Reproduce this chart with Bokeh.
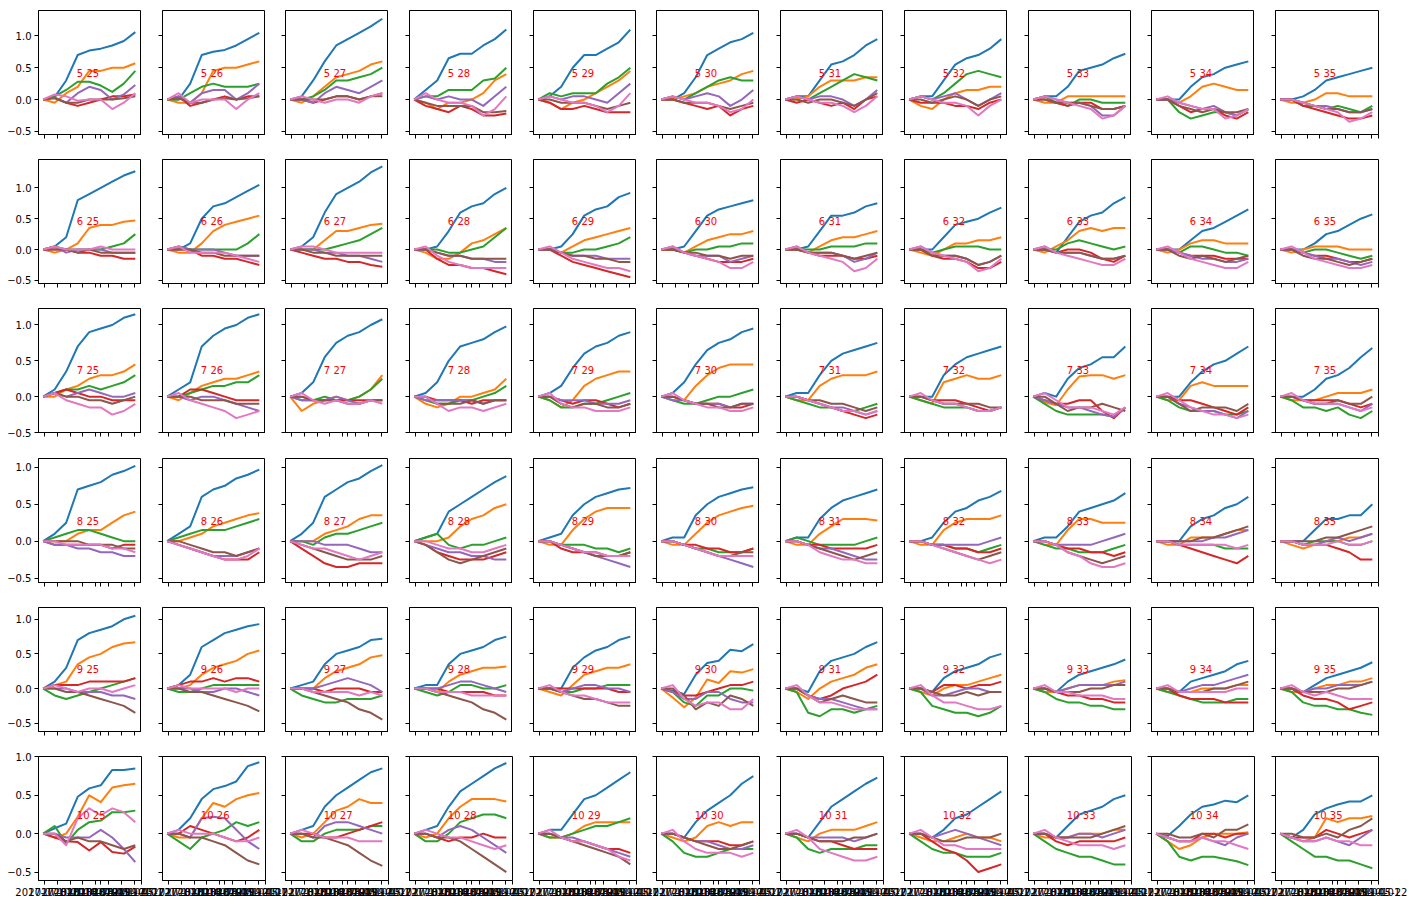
import datetime as dt
from bokeh.plotting import figure
from bokeh.layouts import column, row
from bokeh.models import Range1d, FixedTicker, DatetimeTickFormatter, CustomJSTickFormatter
from bokeh.core.properties import value
from bokeh.embed import file_html
from bokeh.resources import INLINE

rows = [5, 6, 7, 8, 9, 10]
cols = [25, 26, 27, 28, 29, 30, 31, 32, 33, 34, 35]
dates = ["2017-06-22", "2017-09-12", "2017-12-03", "2018-02-23", "2018-05-16",
         "2018-08-06", "2018-10-27", "2019-01-17", "2019-04-09"]
x_tick_dates = ["2017-07-01", "2017-10-01", "2018-01-01", "2018-04-01", "2018-07-01",
                "2018-08-05", "2018-10-01", "2019-01-01", "2019-04-01", "2019-05-22"]
y_ticks = [-0.5, 0.0, 0.5, 1.0]
y_tick_labels = ["\u22120.5", "0.0", "0.5", "1.0"]
label_x = "2018-02-17"
label_y = [0.41, 0.46, 0.36, 0.27, 0.28, 0.24]

blue = [
 [0,.04,.3,.7,.77,.8,.85,.92,1.06],[0,0,.25,.7,.75,.78,.85,.95,1.05],[0,.05,.3,.6,.85,.95,1.05,1.15,1.27],[0,.15,.3,.65,.72,.72,.85,.95,1.1],[0,.05,.2,.5,.7,.7,.8,.9,1.1],[0,0,.1,.35,.7,.8,.9,.95,1.05],[0,.05,.05,.3,.55,.6,.7,.85,.95],[0,.05,.05,.3,.55,.65,.7,.8,.95],[0,.05,.05,.2,.45,.5,.55,.65,.72],[0,0,0,.2,.35,.4,.5,.55,.6],[0,0,.05,.15,.3,.35,.4,.45,.5],
 [0,.05,.2,.8,.9,1.0,1.1,1.2,1.27],[0,0,.1,.5,.7,.75,.85,.95,1.05],[0,.05,.2,.6,.9,1.0,1.1,1.25,1.35],[0,0,.05,.3,.6,.7,.75,.9,1.0],[0,0,.05,.25,.55,.65,.7,.85,.92],[0,0,.05,.3,.55,.65,.7,.75,.8],[0,0,.05,.3,.55,.55,.6,.7,.75],[0,0,0,.2,.4,.45,.5,.6,.68],[0,0,-.05,.2,.45,.55,.6,.75,.85],[0,0,0,.15,.3,.35,.45,.55,.65],[0,0,0,.1,.25,.3,.4,.5,.57],
 [0,.1,.35,.7,.9,.95,1.0,1.1,1.15],[0,.1,.2,.7,.85,.95,1.0,1.1,1.15],[0,.05,.2,.55,.75,.85,.9,1.0,1.08],[0,.05,.2,.5,.7,.75,.8,.9,.98],[0,.05,.15,.4,.6,.7,.75,.85,.9],[0,.05,.2,.45,.65,.75,.8,.9,.95],[0,.05,.05,.3,.5,.6,.65,.7,.75],[0,0,0,.3,.45,.55,.6,.65,.7],[0,.05,0,.25,.4,.45,.55,.55,.7],[0,0,0,.2,.35,.45,.5,.6,.7],[0,0,0,.1,.25,.3,.4,.55,.68],
 [0,.1,.25,.7,.75,.8,.9,.95,1.02],[0,.1,.2,.6,.7,.75,.85,.9,.97],[0,.1,.25,.6,.7,.8,.85,.95,1.03],[0,.05,.1,.4,.5,.6,.7,.8,.88],[0,.05,.1,.35,.5,.6,.65,.7,.72],[0,.05,.05,.35,.5,.6,.65,.7,.73],[0,.05,.05,.3,.45,.55,.6,.65,.7],[0,0,.05,.25,.4,.45,.55,.6,.68],[0,.05,.05,.2,.4,.45,.5,.55,.65],[0,0,0,.2,.3,.35,.45,.5,.6],[0,0,0,.15,.3,.3,.35,.35,.5],
 [0,.1,.3,.7,.8,.85,.9,1.0,1.05],[0,.05,.2,.6,.7,.8,.85,.9,.93],[0,.05,.1,.35,.5,.55,.6,.7,.72],[0,.05,.05,.35,.5,.55,.6,.7,.75],[0,0,0,.3,.45,.55,.6,.7,.75],[0,-.03,-.08,.2,.37,.4,.56,.54,.64],[0,0,-.05,.25,.4,.45,.5,.6,.67],[0,0,-.05,.15,.25,.3,.35,.45,.5],[0,0,-.05,.1,.2,.25,.3,.35,.42],[0,0,-.05,.1,.15,.2,.25,.35,.4],[0,0,-.05,.05,.15,.2,.25,.3,.38],
 [0,.07,.13,.48,.59,.63,.83,.83,.85],[0,.05,.2,.45,.58,.62,.68,.88,.93],[0,.05,.1,.35,.5,.6,.7,.8,.85],[0,.05,.1,.35,.55,.65,.75,.85,.92],[0,.05,.05,.25,.45,.5,.6,.7,.8],[0,0,-.05,.15,.3,.4,.5,.65,.75],[0,0,-.05,.15,.35,.45,.55,.65,.73],[0,0,-.05,.05,.2,.25,.35,.45,.55],[0,0,-.05,.1,.25,.3,.35,.45,.5],[0,-.03,.1,.25,.35,.38,.43,.41,.5],[0,-.05,.05,.25,.33,.38,.42,.42,.5],
]
orange = [
 [0,-.05,.1,.2,.45,.45,.5,.5,.57],[0,-.05,-.05,.1,.45,.5,.5,.55,.6],[0,-.05,.05,.2,.35,.4,.45,.55,.6],[0,-.05,-.15,-.05,-.05,0,.1,.3,.4],[0,-.05,-.15,-.05,0,.1,.2,.3,.45],[0,0,.05,.1,.2,.25,.3,.4,.45],[0,0,.05,.2,.3,.3,.3,.35,.35],[0,-.1,-.15,0,.1,.15,.15,.2,.2],[0,-.05,-.05,.05,.05,.05,.05,.05,.05],[0,0,-.05,.05,.2,.25,.2,.15,.15],[0,-.05,-.05,0,.1,.1,.05,.05,.05],
 [0,-.05,0,.1,.35,.4,.4,.45,.47],[0,-.05,-.05,.1,.3,.4,.45,.5,.55],[0,0,0,.15,.3,.3,.35,.4,.42],[0,-.05,-.15,-.15,-.05,.1,.15,.25,.35],[0,0,-.05,.05,.15,.2,.25,.3,.35],[0,0,-.05,.05,.15,.2,.25,.25,.3],[0,0,-.05,.05,.15,.2,.2,.25,.3],[0,-.05,-.1,0,.1,.1,.15,.15,.2],[0,-.05,.05,.15,.3,.35,.3,.35,.35],[0,-.05,0,.1,.15,.15,.1,.1,.1],[0,-.05,0,.05,.05,.05,0,0,0],
 [0,0,.1,.15,.25,.3,.3,.35,.45],[0,-.05,.05,.15,.2,.25,.25,.3,.35],[0,-.2,-.1,-.05,0,-.05,0,.1,.3],[0,-.1,-.15,-.1,0,0,.05,.1,.25],[0,-.05,-.15,-.05,.15,.25,.3,.35,.35],[0,0,-.05,.15,.3,.4,.45,.45,.45],[0,-.05,-.05,.15,.25,.3,.3,.3,.35],[0,-.05,-.1,.2,.25,.3,.25,.25,.3],[0,-.08,-.12,.1,.28,.3,.3,.25,.3],[0,-.05,-.05,.15,.2,.15,.15,.15,.15],[0,-.05,-.05,-.05,0,.05,.05,.05,.1],
 [0,0,0,.1,.15,.15,.25,.35,.4],[0,0,.05,.1,.2,.25,.3,.35,.38],[0,0,0,.1,.15,.2,.3,.35,.35],[0,0,0,.05,.2,.3,.35,.45,.5],[0,-.05,-.05,.15,.3,.4,.45,.45,.45],[0,-.05,-.05,.1,.25,.35,.4,.45,.48],[0,-.05,-.05,.1,.2,.3,.3,.3,.28],[0,-.05,-.05,.15,.25,.3,.3,.3,.35],[0,-.05,-.05,.15,.3,.3,.25,.25,.25],[0,-.05,-.05,.05,.05,.05,.1,.15,.15],[0,-.05,-.1,-.05,0,0,.05,.05,.1],
 [0,.05,.1,.35,.45,.5,.6,.65,.67],[0,0,.05,.2,.3,.35,.4,.5,.55],[0,0,0,.15,.25,.3,.35,.45,.48],[0,0,-.05,.1,.2,.25,.3,.3,.32],[0,-.05,-.1,.05,.2,.25,.3,.3,.35],[0,-.13,-.27,-.13,.13,.08,.25,.23,.28],[0,-.05,-.15,0,.1,.15,.2,.3,.35],[0,-.05,-.1,0,.05,.05,.1,.15,.2],[0,-.05,-.05,0,.05,.05,.05,.1,.12],[0,-.05,-.05,-.05,0,0,0,.05,.05],[0,-.05,-.05,0,.05,.05,.1,.1,.15],
 [0,-.05,0,.22,.5,.41,.6,.63,.65],[0,-.05,-.05,.2,.4,.35,.45,.5,.53],[0,-.05,0,.15,.3,.35,.45,.4,.4],[0,-.05,0,.2,.35,.45,.45,.45,.42],[0,-.05,-.05,0,.1,.15,.15,.15,.15],[0,-.05,-.1,-.05,.1,.15,.1,.15,.15],[0,-.05,-.1,0,.05,.05,.05,.1,.15],[0,-.05,-.1,-.1,-.05,0,-.05,-.05,-.1],[0,-.05,-.05,-.05,0,0,0,.05,.05],[0,-.1,-.2,-.15,-.05,0,0,0,.02],[0,-.05,-.1,-.05,.2,.15,.2,.2,.23],
]
green = [
 [0,.05,.15,.28,.28,.22,.12,.25,.45],[0,0,.1,.2,.25,.2,.2,.2,.25],[0,0,.05,.15,.3,.3,.35,.4,.5],[0,.05,.05,.15,.15,.15,.3,.33,.5],[0,.1,.05,.1,.1,.1,.25,.35,.5],[0,.05,0,.1,.2,.3,.35,.3,.3],[0,.05,0,.1,.2,.3,.4,.35,.3],[0,.05,0,.1,.25,.4,.45,.4,.35],[0,.05,-.05,-.1,0,0,-.05,-.05,-.05],[0,0,-.2,-.3,-.25,-.2,-.2,-.25,-.15],[0,0,-.1,-.1,-.15,-.1,-.15,-.2,-.1],
 [0,.05,0,0,0,0,.05,.1,.25],[0,.05,0,0,0,0,0,.1,.25],[0,0,0,0,.05,.1,.15,.25,.35],[0,0,0,-.05,-.05,0,.05,.2,.35],[0,0,-.05,-.05,0,0,.05,.1,.2],[0,0,-.05,0,0,.05,.05,.1,.1],[0,0,0,0,.05,.05,.05,.1,.1],[0,0,-.05,0,.05,.05,.05,0,0],[0,0,0,.1,.15,.1,.05,0,.05],[0,0,-.05,.05,.05,0,-.05,-.05,-.1],[0,0,-.05,0,0,-.05,-.1,-.15,-.1],
 [0,.05,.1,.1,.15,.1,.15,.2,.3],[0,0,.05,.1,.15,.15,.2,.2,.3],[0,-.05,-.05,0,-.05,-.05,0,.1,.25],[0,-.05,-.1,-.1,-.05,-.05,0,.05,.15],[0,-.05,-.15,-.15,-.1,-.1,-.05,0,.05],[0,-.05,-.1,-.1,-.05,0,0,.05,.1],[0,-.05,-.1,-.15,-.15,-.2,-.2,-.15,-.1],[0,-.05,-.1,-.15,-.15,-.15,-.2,-.2,-.15],[0,-.1,-.2,-.25,-.25,-.25,-.25,-.28,-.15],[0,-.05,-.15,-.2,-.2,-.2,-.25,-.25,-.2],[0,-.05,-.15,-.15,-.2,-.15,-.25,-.3,-.2],
 [0,.05,.1,.15,.15,.1,.05,0,0],[0,.05,.1,.15,.15,.15,.2,.25,.3],[0,0,-.05,.05,.1,.1,.15,.2,.25],[0,.05,.1,-.05,-.1,-.05,-.05,0,.05],[0,0,-.05,-.05,-.05,-.1,-.1,-.15,-.1],[0,0,-.05,-.1,-.1,-.15,-.15,-.15,-.1],[0,.05,0,-.05,-.05,-.05,-.05,0,.05],[0,0,-.05,-.05,-.1,-.1,-.15,-.1,-.05],[0,-.05,-.1,-.1,-.15,-.15,-.15,-.1,-.05],[0,0,-.05,-.05,-.05,-.05,-.1,-.1,-.1],[0,0,-.05,0,0,0,-.05,-.05,0],
 [0,-.1,-.15,-.1,-.05,0,.05,.1,.15],[0,-.05,-.05,0,.05,.05,.05,.05,.05],[0,-.1,-.15,-.2,-.2,-.15,-.15,-.15,-.1],[0,-.05,-.1,-.05,.05,.05,0,0,.05],[0,0,-.05,-.05,0,0,.05,.05,.05],[0,-.05,-.2,-.25,-.1,-.1,0,0,-.03],[0,-.05,-.35,-.4,-.3,-.3,-.35,-.3,-.25],[0,-.05,-.25,-.3,-.35,-.35,-.4,-.35,-.25],[0,-.05,-.15,-.2,-.2,-.25,-.25,-.3,-.3],[0,-.05,-.1,-.15,-.2,-.2,-.2,-.15,-.15],[0,-.05,-.2,-.25,-.25,-.3,-.3,-.35,-.38],
 [0,.1,-.13,.05,.15,.17,.28,.28,.3],[0,-.1,-.2,-.05,0,.05,.15,.1,.15],[0,-.1,-.1,0,.05,.05,.05,.1,.1],[0,-.1,-.1,0,.15,.2,.25,.25,.2],[0,-.05,-.05,0,.05,.1,.1,.15,.2],[0,-.1,-.25,-.3,-.3,-.25,-.2,-.2,-.2],[0,-.05,-.2,-.25,-.2,-.2,-.2,-.15,-.15],[0,-.1,-.2,-.25,-.25,-.3,-.3,-.3,-.25],[0,-.1,-.2,-.25,-.3,-.3,-.35,-.4,-.4],[0,-.1,-.3,-.35,-.3,-.3,-.33,-.36,-.41],[0,-.1,-.2,-.3,-.3,-.35,-.35,-.4,-.45],
]
red = [
 [0,.03,-.05,-.1,-.05,0,.05,.05,.08],[0,.05,-.1,-.05,0,.05,0,.05,.05],[0,0,-.05,0,.05,.05,0,.05,.1],[0,-.1,-.15,-.2,-.1,-.15,-.25,-.25,-.22],[0,-.05,-.15,-.15,-.1,-.15,-.2,-.2,-.2],[0,0,-.05,-.1,-.15,-.1,-.25,-.15,-.1],[0,-.05,0,-.05,-.1,-.05,-.15,0,.05],[0,-.05,-.05,-.05,-.1,-.1,-.15,-.05,0],[0,0,-.05,-.1,-.05,-.05,-.15,-.15,-.1],[0,0,-.1,-.2,-.15,-.15,-.25,-.3,-.2],[0,0,-.1,-.15,-.2,-.25,-.3,-.3,-.25],
 [0,0,0,-.05,-.05,-.1,-.1,-.15,-.15],[0,0,0,-.1,-.1,-.15,-.15,-.2,-.25],[0,-.05,-.1,-.15,-.15,-.2,-.2,-.25,-.28],[0,0,-.15,-.25,-.25,-.3,-.3,-.35,-.4],[0,0,-.1,-.2,-.25,-.3,-.35,-.4,-.45],[0,0,-.05,-.1,-.15,-.2,-.2,-.2,-.15],[0,0,-.05,-.1,-.1,-.1,-.15,-.15,-.1],[0,0,-.1,-.15,-.15,-.2,-.3,-.3,-.2],[0,0,-.05,0,0,-.05,-.15,-.2,-.1],[0,0,-.05,-.1,-.1,-.1,-.15,-.15,-.15],[0,0,-.05,-.1,-.1,-.15,-.2,-.2,-.15],
 [0,.05,.1,.05,0,0,-.05,-.05,-.05],[0,0,.1,.1,.05,0,-.05,-.05,-.05],[0,0,-.05,-.05,-.05,-.05,-.05,-.05,-.05],[0,0,-.05,-.05,-.05,-.1,-.05,-.05,-.05],[0,0,-.05,-.1,-.05,-.05,-.1,-.15,-.1],[0,0,-.05,-.1,-.1,-.1,-.15,-.15,-.1],[0,0,-.05,-.1,-.15,-.2,-.25,-.3,-.25],[0,0,-.05,-.05,-.05,-.1,-.15,-.2,-.15],[0,-.05,-.1,-.1,-.05,-.05,-.2,-.3,-.15],[0,0,-.05,-.05,-.1,-.15,-.2,-.25,-.15],[0,0,-.05,-.05,-.05,-.05,-.1,-.15,-.1],
 [0,-.05,-.05,-.05,-.05,-.05,-.1,-.05,-.05],[0,-.05,-.1,-.15,-.2,-.25,-.25,-.25,-.15],[0,-.1,-.2,-.3,-.35,-.35,-.3,-.3,-.3],[0,-.05,-.15,-.2,-.25,-.25,-.25,-.2,-.15],[0,0,-.1,-.15,-.15,-.15,-.2,-.2,-.15],[0,0,-.05,-.05,-.1,-.1,-.15,-.15,-.1],[0,0,-.05,-.05,-.1,-.1,-.1,-.1,-.05],[0,0,-.05,-.05,-.1,-.1,-.15,-.15,-.1],[0,0,-.05,-.1,-.1,-.15,-.15,-.2,-.15],[0,0,-.05,-.1,-.15,-.2,-.25,-.3,-.2],[0,0,-.05,-.05,-.05,-.1,-.15,-.25,-.25],
 [0,.05,.05,.05,.1,.1,.1,.1,.15],[0,.05,.1,.1,.15,.1,.15,.15,.1],[0,0,0,-.05,0,0,0,-.05,-.05],[0,0,0,-.05,-.05,-.05,-.05,-.1,-.1],[0,0,0,0,0,0,0,-.05,-.05],[0,-.05,-.1,-.1,-.05,0,.05,.05,.1],[0,0,-.1,-.15,-.1,0,.05,.1,.2],[0,0,-.05,.05,.05,0,.05,.05,.1],[0,0,-.05,-.1,-.1,-.15,-.15,-.2,-.2],[0,0,-.1,-.15,-.15,-.15,-.2,-.2,-.2],[0,0,-.1,-.15,-.15,-.2,-.3,-.25,-.2],
 [0,-.05,-.1,-.11,-.22,-.11,-.24,-.26,-.17],[0,0,.1,.05,0,-.05,-.1,-.05,.05],[0,0,0,-.05,-.05,0,.05,.1,.15],[0,0,-.05,-.1,-.05,-.05,0,-.05,-.05],[0,0,-.05,-.1,-.1,-.15,-.2,-.2,-.25],[0,0,-.05,-.1,-.1,-.1,-.15,-.15,-.1],[0,0,-.05,-.1,-.1,-.15,-.2,-.2,-.2],[0,0,-.1,-.2,-.25,-.35,-.5,-.45,-.4],[0,0,-.1,-.15,-.1,-.1,-.1,-.1,-.05],[0,-.05,-.1,-.1,0,0,-.05,0,0],[0,-.05,-.05,-.05,.05,0,-.05,0,.05],
]
purple = [
 [0,.03,-.05,.1,.2,.15,0,.08,.23],[0,.05,-.05,.1,.15,.15,0,.1,.25],[0,0,-.05,.1,.2,.15,.1,.2,.3],[0,.05,0,.05,0,0,-.1,.05,.2],[0,.05,0,.05,.05,0,-.05,.1,.25],[0,.05,0,.05,.1,.05,-.1,0,.15],[0,.05,0,.05,.05,0,-.1,0,.15],[0,.05,0,.05,.1,0,-.1,0,.1],[0,.05,0,-.05,-.05,-.1,-.25,-.25,-.1],[0,0,-.05,-.1,-.15,-.1,-.2,-.25,-.15],[0,0,-.05,-.1,-.1,-.15,-.2,-.2,-.15],
 [0,.05,-.05,0,0,0,-.05,-.05,-.05],[0,.05,0,0,0,-.05,-.1,-.1,-.1],[0,0,0,-.05,-.05,-.1,-.1,-.15,-.2],[0,0,-.05,-.1,-.1,-.15,-.15,-.2,-.2],[0,0,-.05,-.1,-.1,-.1,-.15,-.15,-.15],[0,.05,-.05,-.1,-.1,-.1,-.2,-.15,-.1],[0,.05,-.05,-.05,-.05,-.1,-.2,-.15,-.05],[0,.05,-.05,-.1,-.1,-.15,-.25,-.2,-.1],[0,.05,-.05,-.05,-.05,-.1,-.15,-.15,-.1],[0,0,-.05,-.1,-.15,-.15,-.2,-.2,-.15],[0,0,-.05,-.1,-.15,-.15,-.2,-.25,-.2],
 [0,.05,0,.05,.1,.05,0,0,.05],[0,0,-.05,0,0,-.05,-.1,-.15,-.2],[0,-.05,-.05,-.05,0,-.05,-.1,-.05,-.05],[0,-.05,-.05,-.05,-.05,-.05,-.1,-.05,-.05],[0,0,-.05,-.05,-.05,-.1,-.1,-.1,-.05],[0,-.05,-.05,-.1,-.1,-.1,-.15,-.1,-.1],[0,0,-.05,-.1,-.15,-.15,-.2,-.25,-.2],[0,0,-.05,-.1,-.1,-.15,-.2,-.2,-.15],[0,-.05,-.1,-.15,-.15,-.2,-.25,-.28,-.15],[0,0,-.1,-.15,-.2,-.2,-.25,-.3,-.2],[0,0,-.05,-.1,-.1,-.1,-.15,-.2,-.1],
 [0,-.05,-.05,-.1,-.1,-.15,-.15,-.2,-.2],[0,-.05,-.1,-.15,-.2,-.2,-.2,-.15,-.1],[0,0,0,-.05,-.05,-.05,-.1,-.15,-.15],[0,-.05,-.1,-.15,-.15,-.2,-.2,-.25,-.25],[0,0,-.05,-.1,-.15,-.2,-.25,-.3,-.35],[0,0,-.05,-.1,-.15,-.2,-.25,-.3,-.35],[0,0,-.05,-.1,-.1,-.15,-.2,-.25,-.25],[0,0,-.05,-.05,-.05,-.05,-.05,0,.05],[0,0,-.05,-.05,-.05,-.05,0,.05,.1],[0,0,0,0,0,.05,.05,.1,.15],[0,0,-.05,-.05,0,.05,0,.05,.1],
 [0,0,0,-.05,-.05,-.05,-.1,-.1,-.15],[0,0,0,-.05,-.05,0,0,-.05,-.1],[0,0,0,.05,.1,.15,.1,.05,-.05],[0,0,0,.05,.1,.1,.05,0,-.05],[0,0,-.05,0,.05,.05,0,0,-.05],[0,-.05,-.15,-.15,-.05,-.05,-.15,-.2,-.2],[0,0,-.1,-.15,-.15,-.2,-.25,-.3,-.3],[0,0,-.1,-.1,-.05,0,0,-.05,-.05],[0,0,-.05,0,.05,.05,.05,.05,.1],[0,0,-.05,0,.05,.05,.1,.15,.2],[0,0,-.05,0,0,.05,.05,.05,.1],
 [0,0,-.05,-.05,-.05,.05,-.05,-.2,-.37],[0,0,-.05,.2,.22,.2,.05,-.1,-.2],[0,0,-.05,.1,.15,.15,.1,.05,0],[0,0,-.05,.05,.1,.05,-.05,-.15,-.25],[0,0,-.05,-.05,-.1,-.15,-.2,-.25,-.3],[0,0,-.05,-.1,-.1,-.15,-.2,-.2,-.15],[0,0,-.05,-.05,-.05,-.05,-.1,-.05,0],[0,0,-.05,0,.05,0,-.05,-.1,-.15],[0,0,-.05,-.05,0,0,-.05,0,.05],[0,-.05,-.1,-.1,-.05,-.1,-.15,-.05,0],[0,-.05,-.1,-.1,-.05,-.1,-.15,-.05,.05],
]
brown = [
 [0,.02,-.05,-.05,0,0,0,.02,.05],[0,.02,-.05,-.05,0,.02,0,.02,.05],[0,0,0,0,.05,.05,0,.05,.05],[0,-.05,-.1,-.1,-.1,-.1,-.2,-.2,-.18],[0,0,-.05,-.05,-.05,-.1,-.15,-.1,-.05],[0,0,-.05,-.05,-.05,-.1,-.15,-.1,-.05],[0,0,-.05,0,0,-.05,-.1,0,.1],[0,0,-.05,0,.05,0,-.1,0,.05],[0,0,-.05,-.05,-.05,-.1,-.15,-.15,-.1],[0,0,-.1,-.15,-.2,-.15,-.2,-.2,-.15],[0,0,-.05,-.1,-.15,-.15,-.2,-.2,-.15],
 [0,0,0,-.05,0,-.05,-.05,-.05,-.05],[0,0,0,-.05,-.05,-.1,-.1,-.1,-.1],[0,0,-.05,-.05,-.1,-.1,-.1,-.1,-.1],[0,0,-.05,-.1,-.1,-.15,-.15,-.15,-.15],[0,0,-.05,-.1,-.1,-.15,-.15,-.2,-.2],[0,0,-.05,-.05,-.1,-.1,-.15,-.1,-.1],[0,0,-.05,-.05,-.05,-.1,-.15,-.1,-.05],[0,0,-.1,-.1,-.1,-.15,-.25,-.2,-.1],[0,0,-.05,-.05,-.05,-.1,-.15,-.15,-.1],[0,0,-.1,-.15,-.1,-.15,-.2,-.15,-.1],[0,0,-.1,-.15,-.15,-.2,-.25,-.2,-.15],
 [0,.05,0,0,-.05,-.05,-.1,-.05,0],[0,0,0,-.05,-.05,-.05,-.1,-.1,-.1],[0,0,-.05,-.05,-.05,-.1,-.1,-.05,-.05],[0,0,-.1,-.1,-.1,-.05,-.1,-.05,-.05],[0,0,-.1,-.15,-.1,-.1,-.15,-.15,-.1],[0,0,-.05,-.1,-.1,-.15,-.15,-.1,-.1],[0,0,-.05,-.05,-.1,-.1,-.15,-.2,-.15],[0,0,-.05,-.1,-.1,-.1,-.1,-.15,-.15],[0,0,-.1,-.2,-.15,-.15,-.1,-.15,-.2],[0,0,-.1,-.2,-.15,-.15,-.15,-.2,-.1],[0,0,-.05,-.1,-.1,-.05,-.1,-.1,0],
 [0,0,0,0,-.05,-.05,-.05,-.1,-.1],[0,0,-.05,-.1,-.15,-.15,-.2,-.15,-.1],[0,-.05,-.1,-.15,-.2,-.25,-.25,-.25,-.2],[0,-.05,-.15,-.25,-.3,-.25,-.2,-.15,-.1],[0,0,-.05,-.1,-.15,-.2,-.2,-.2,-.15],[0,0,-.05,-.1,-.15,-.2,-.2,-.15,-.15],[0,0,-.05,-.1,-.15,-.2,-.25,-.2,-.15],[0,0,-.05,-.1,-.15,-.2,-.25,-.2,-.15],[0,0,-.05,-.15,-.2,-.25,-.3,-.25,-.2],[0,0,0,0,.05,.05,.1,.15,.2],[0,0,0,0,.05,.05,.1,.15,.2],
 [0,0,-.05,-.05,-.1,-.15,-.2,-.25,-.35],[0,0,-.05,-.05,-.1,-.15,-.2,-.25,-.33],[0,0,-.05,-.1,-.15,-.2,-.3,-.35,-.45],[0,0,-.05,-.1,-.15,-.2,-.3,-.35,-.45],[0,0,-.05,-.1,-.15,-.15,-.2,-.25,-.25],[0,0,-.1,-.3,-.2,-.25,-.1,-.15,-.25],[0,0,-.1,-.2,-.15,-.1,-.15,-.2,-.2],[0,0,-.05,-.1,-.1,-.05,-.1,-.05,-.05],[0,0,-.05,-.05,-.05,0,0,.05,.05],[0,0,-.05,-.05,-.05,0,0,.05,.1],[0,0,-.05,-.05,-.05,0,0,.05,.1],
 [0,0,-.1,-.05,-.1,-.1,-.15,-.2,-.15],[0,0,-.05,-.05,-.1,-.15,-.25,-.35,-.4],[0,0,-.05,-.05,-.1,-.15,-.25,-.35,-.42],[0,0,-.05,-.05,-.1,-.2,-.3,-.4,-.5],[0,0,-.05,-.1,-.15,-.2,-.25,-.3,-.4],[0,0,-.05,-.1,-.15,-.2,-.2,-.15,-.1],[0,0,-.05,-.1,-.1,-.1,-.05,-.05,0],[0,0,-.05,-.1,-.1,-.05,-.05,-.05,0],[0,0,-.05,-.05,-.05,-.05,0,.05,.1],[0,0,-.05,-.05,0,-.05,.05,.05,.12],[0,0,-.05,-.05,0,-.05,.05,.1,.2],
]
pink = [
 [0,.08,.05,-.02,0,0,-.15,-.05,.1],[0,.1,-.05,0,0,0,-.15,0,.1],[0,.05,0,-.05,0,0,-.05,.05,.1],[0,.1,0,-.05,-.05,-.1,-.25,-.15,.05],[0,.05,0,-.05,-.05,-.1,-.2,-.1,.1],[0,.05,0,-.05,-.05,-.1,-.2,-.15,0],[0,.05,0,-.05,-.05,-.1,-.2,-.1,.05],[0,.05,0,-.05,-.05,-.1,-.25,-.1,0],[0,.05,0,-.05,-.1,-.15,-.3,-.25,-.1],[0,.05,-.05,-.1,-.15,-.15,-.3,-.25,-.15],[0,0,-.05,-.1,-.15,-.2,-.35,-.3,-.2],
 [0,.05,0,0,0,.05,0,0,0],[0,.05,-.05,-.05,-.05,-.05,-.1,-.15,-.2],[0,.05,.05,0,-.05,-.05,-.05,-.05,-.05],[0,.05,-.1,-.2,-.25,-.3,-.3,-.3,-.3],[0,.05,-.05,-.15,-.2,-.25,-.3,-.3,-.35],[0,.05,-.05,-.1,-.15,-.2,-.3,-.3,-.2],[0,.05,-.05,-.1,-.15,-.2,-.35,-.3,-.15],[0,.05,-.05,-.1,-.15,-.2,-.35,-.3,-.15],[0,.05,-.05,-.1,-.15,-.2,-.25,-.25,-.15],[0,.05,-.05,-.15,-.2,-.25,-.3,-.3,-.2],[0,.05,-.05,-.15,-.2,-.25,-.3,-.3,-.25],
 [0,.05,-.05,-.1,-.15,-.15,-.25,-.2,-.1],[0,.05,-.05,-.1,-.15,-.2,-.3,-.25,-.2],[0,.05,-.05,-.1,-.05,-.1,-.1,-.05,-.1],[0,0,-.1,-.2,-.15,-.15,-.2,-.15,-.1],[0,.05,-.1,-.15,-.15,-.2,-.2,-.2,-.15],[0,.05,-.05,-.1,-.15,-.15,-.2,-.2,-.15],[0,0,-.05,-.1,-.15,-.2,-.2,-.25,-.2],[0,.05,-.05,-.1,-.1,-.15,-.2,-.2,-.15],[0,.05,-.05,-.15,-.15,-.15,-.2,-.25,-.15],[0,.05,-.05,-.15,-.2,-.25,-.25,-.3,-.25],[0,.05,-.05,-.1,-.1,-.1,-.15,-.2,-.15],
 [0,0,-.05,-.05,-.05,-.05,-.1,-.1,-.15],[0,-.05,-.1,-.15,-.2,-.25,-.25,-.2,-.1],[0,-.05,-.1,-.1,-.15,-.2,-.25,-.2,-.15],[0,0,-.05,-.1,-.1,-.15,-.15,-.1,-.05],[0,0,-.05,-.1,-.15,-.15,-.2,-.2,-.2],[0,0,-.05,-.1,-.15,-.2,-.2,-.2,-.2],[0,0,-.05,-.15,-.2,-.25,-.25,-.3,-.3],[0,0,-.05,-.1,-.15,-.2,-.25,-.3,-.25],[0,0,-.05,-.15,-.2,-.3,-.35,-.35,-.3],[0,0,-.05,-.05,-.05,-.05,-.05,-.1,-.05],[0,0,-.05,-.05,-.05,0,-.05,-.05,0],
 [0,.05,0,-.05,0,0,-.05,0,.05],[0,.05,0,0,0,0,-.05,0,0],[0,0,-.05,-.05,-.05,-.05,-.1,-.05,-.1],[0,0,-.05,-.05,-.05,-.1,-.1,-.1,-.1],[0,.05,-.05,-.1,-.1,-.15,-.2,-.2,-.2],[0,.05,-.15,-.25,-.2,-.2,-.3,-.3,-.15],[0,.05,-.1,-.2,-.2,-.25,-.3,-.3,-.3],[0,.05,-.1,-.2,-.2,-.25,-.3,-.3,-.25],[0,.05,-.05,-.05,-.1,-.1,-.1,-.15,-.15],[0,.05,-.05,-.05,-.05,-.05,-.05,0,0],[0,.05,-.05,-.1,-.05,-.1,-.15,-.15,-.15],
 [0,0,-.15,.2,.33,.24,.33,.28,.15],[0,.05,0,0,0,-.05,-.1,-.1,-.05],[0,.05,0,-.05,-.05,-.05,-.1,-.1,-.1],[0,.05,0,-.05,-.05,-.1,-.15,-.2,-.15],[0,.05,-.05,-.1,-.1,-.15,-.2,-.3,-.35],[0,.05,-.1,-.2,-.25,-.25,-.25,-.3,-.25],[0,.05,-.05,-.2,-.25,-.3,-.35,-.35,-.3],[0,.05,-.05,-.15,-.15,-.2,-.2,-.2,-.2],[0,.05,-.05,-.1,-.15,-.15,-.15,-.2,-.15],[0,-.05,-.1,-.1,-.05,-.1,-.1,-.15,-.2],[0,-.05,-.1,-.1,-.05,-.1,-.1,-.15,-.15],
]

# ---- styling / layout ----
series = [blue, orange, green, red, purple, brown, pink]
colors = ["#1f77b4", "#ff7f0e", "#2ca02c", "#d62728", "#9467bd", "#8c564b", "#e377c2"]
ylims = [(-0.55, 1.40), (-0.55, 1.46), (-0.50, 1.23), (-0.56, 1.12), (-0.62, 1.17), (-0.61, 1.005)]
x_start, x_end = "2017-05-20", "2019-05-23"
FONT = "DejaVu Sans"
FW, FH = 103, 124
EXT = 36   # extra transparent canvas on inner sides of bottom-row panels, for overlapping date labels


def d(s):
    return dt.datetime.strptime(s, "%Y-%m-%d")


def ms(s):
    return (d(s) - dt.datetime(1970, 1, 1)).total_seconds() * 1000.0


xs = [d(s) for s in dates]
col_lefts = [round(38 + 123.7 * c) for c in range(len(cols))]
row_tops = [round(10 + 149.2 * r) for r in range(len(rows))]
BOTTOM_GAP = 20
blank = CustomJSTickFormatter(code="return ''")
last_r, last_c = len(rows) - 1, len(cols) - 1

row_layouts = []
for ri, rv in enumerate(rows):
    line_figs = []
    for ci, cv in enumerate(cols):
        k = ri * len(cols) + ci
        left = 38 if ci == 0 else col_lefts[ci] - col_lefts[ci - 1] - FW
        right = (1412 - col_lefts[-1] - FW) if ci == last_c else 0
        top = 10 if ri == 0 else row_tops[ri] - row_tops[ri - 1] - FH - BOTTOM_GAP
        bottom = 24 if ri == last_r else BOTTOM_GAP
        ext_l = EXT if (ri == last_r and ci > 0) else 0
        ext_r = EXT if (ri == last_r and ci < last_c) else 0
        p = figure(frame_width=FW, frame_height=FH, x_axis_type="datetime",
                   output_backend="svg", toolbar_location=None,
                   x_range=Range1d(d(x_start), d(x_end)),
                   y_range=Range1d(*ylims[ri]),
                   min_border_left=left + ext_l, min_border_right=right + ext_r,
                   min_border_top=top, min_border_bottom=bottom,
                   background_fill_color="white",
                   border_fill_color=None if ri == last_r else "white",
                   outline_line_color="black", outline_line_width=1,
                   margin=(0, -ext_r, 0, -ext_l))
        p.xgrid.visible = False
        p.ygrid.visible = False
        for ax in (p.xaxis[0], p.yaxis[0]):
            ax.axis_line_color = "black"
            ax.axis_line_width = 1
            ax.major_tick_line_color = "black"
            ax.major_tick_out = 4
            ax.major_tick_in = 0
            ax.minor_tick_line_color = None
            ax.major_label_text_font = FONT
            ax.major_label_text_font_size = "10px"
            ax.major_label_text_color = "black"
            ax.major_label_standoff = 3
        p.yaxis.ticker = FixedTicker(ticks=y_ticks)
        p.xaxis.ticker = FixedTicker(ticks=[ms(s) for s in x_tick_dates])
        if ci == 0:
            p.yaxis.major_label_overrides = {t: lab for t, lab in zip(y_ticks, y_tick_labels)}
        else:
            p.yaxis.formatter = blank
            p.yaxis.major_label_standoff = 0
        if ri == last_r:
            p.xaxis.formatter = DatetimeTickFormatter(
                days="%Y-%m-%d", months="%Y-%m-%d", years="%Y-%m-%d",
                hours="%Y-%m-%d", hourmin="%Y-%m-%d", strip_leading_zeros=False)
        else:
            p.xaxis.formatter = blank
            p.xaxis.major_label_standoff = 0
        for s, c in zip(series, colors):
            p.line(xs, s[k], line_color=c, line_width=2, line_join="round")
        p.text(x=[d(label_x)], y=[label_y[ri]], text=[f"{rv}  {cv}"],
               text_color="red", text_font=value(FONT), text_font_size="10px",
               text_align="left", text_baseline="alphabetic")
        line_figs.append(p)
    row_layouts.append(row(line_figs, spacing=0))

layout = column(row_layouts, spacing=0)
open("out.html", "w").write(file_html(layout, INLINE))
